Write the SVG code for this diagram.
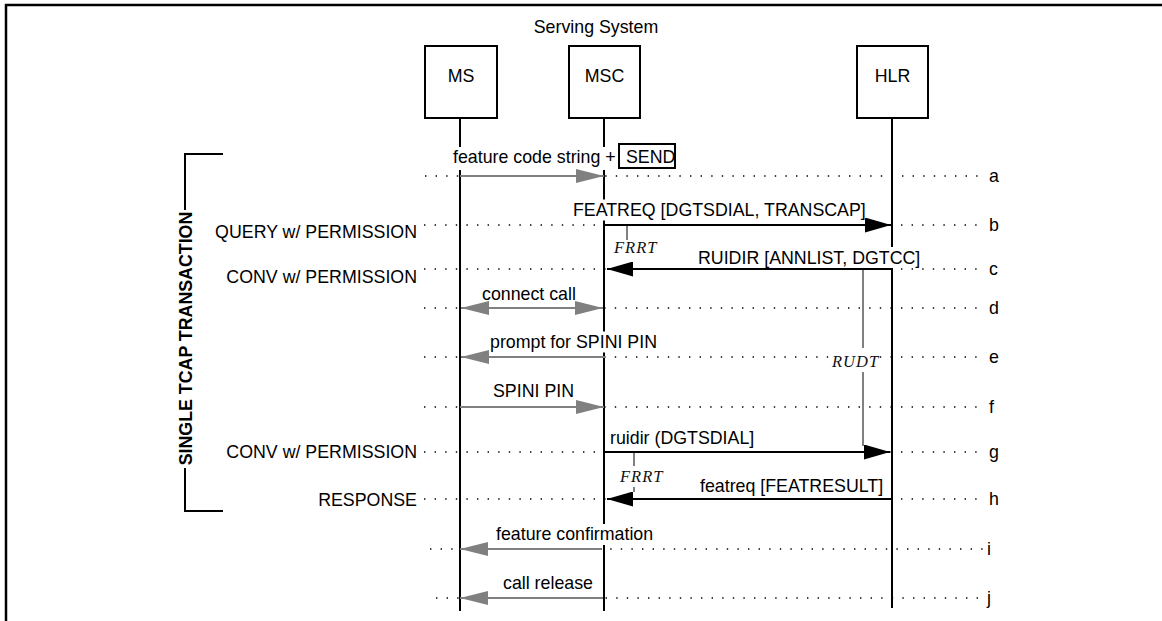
<svg xmlns="http://www.w3.org/2000/svg" width="1162" height="621" viewBox="0 0 1162 621">
<style>
text{font-family:"Liberation Sans",Arial,sans-serif;font-size:17.8px;fill:#000}
.box{fill:#fff;stroke:#000;stroke-width:2}
.life{stroke:#000;stroke-width:2;fill:none}
.dot{stroke:#000;stroke-width:1.4;stroke-dasharray:1.4 9.2;fill:none}
.ga{stroke:#808080;stroke-width:2;fill:none}
.ba{stroke:#000;stroke-width:2;fill:none}
.bg{fill:#fff}
.tm{stroke:#808080;stroke-width:2;fill:none}
.tt{font-family:"Liberation Serif","Times New Roman",serif;font-style:italic;font-size:16.5px;letter-spacing:1px;fill:#111}
.mid{text-anchor:middle}
.end{text-anchor:end}
</style>
<defs>
<marker id="ag" markerUnits="userSpaceOnUse" markerWidth="28" markerHeight="14" refX="28" refY="7" orient="auto-start-reverse"><path d="M0,0 L28,7 L0,14 z" fill="#808080"/></marker>
<marker id="ab" markerUnits="userSpaceOnUse" markerWidth="26" markerHeight="15" refX="26" refY="7.5" orient="auto-start-reverse"><path d="M0,0 L26,7.5 L0,15 z" fill="#000"/></marker>
</defs>
<rect width="1162" height="621" fill="#fff"/>
<g id="frame">
<line x1="5" y1="5" x2="1162" y2="5" stroke="#000" stroke-width="2.5"/>
<line x1="6" y1="4" x2="6" y2="621" stroke="#000" stroke-width="2.5"/>
</g>
<text x="596" y="33" class="mid">Serving System</text>
<g id="guides">
<line class="dot" x1="425" y1="176" x2="978" y2="176"/>
<line class="dot" x1="424" y1="225" x2="978" y2="225"/>
<line class="dot" x1="424" y1="269" x2="978" y2="269"/>
<line class="dot" x1="424" y1="308" x2="978" y2="308"/>
<line class="dot" x1="424" y1="357" x2="978" y2="357"/>
<line class="dot" x1="424" y1="407" x2="978" y2="407"/>
<line class="dot" x1="424" y1="452" x2="978" y2="452"/>
<line class="dot" x1="424" y1="499" x2="978" y2="499"/>
<line class="dot" x1="430" y1="549" x2="985" y2="549"/>
<line class="dot" x1="436" y1="598" x2="985" y2="598"/>
<text x="989" y="182">a</text>
<text x="989" y="231">b</text>
<text x="989" y="275">c</text>
<text x="989" y="314">d</text>
<text x="989" y="363">e</text>
<text x="989" y="413">f</text>
<text x="989" y="458">g</text>
<text x="989" y="505">h</text>
<text x="987" y="555">i</text>
<text x="987" y="604">j</text>
</g>
<g id="MS">
<rect class="box" x="425" y="46" width="72" height="72"/>
<text x="461" y="81.5" class="mid">MS</text>
<line class="life" x1="460" y1="118" x2="460" y2="611"/>
</g>
<g id="MSC">
<rect class="box" x="569" y="46" width="71" height="72"/>
<text x="604.5" y="81.5" class="mid">MSC</text>
<line class="life" x1="604" y1="118" x2="604" y2="611"/>
</g>
<g id="HLR">
<rect class="box" x="857" y="46" width="71" height="72"/>
<text x="892.5" y="82" class="mid">HLR</text>
<line class="life" x1="892" y1="118" x2="892" y2="608"/>
</g>
<g id="bracket">
<path d="M223,154 H185 V210" fill="none" stroke="#000" stroke-width="2"/>
<path d="M185,468 V511 H223" fill="none" stroke="#000" stroke-width="2"/>
<text transform="translate(192,338.5) rotate(-90)" class="mid" font-weight="bold">SINGLE TCAP TRANSACTION</text>
</g>
<g id="phase-labels">
<rect class="bg" x="220" y="220" width="199" height="22"/>
<text x="417" y="238" class="end">QUERY w/ PERMISSION</text>
<rect class="bg" x="220" y="264" width="199" height="22"/>
<text x="417" y="283" class="end">CONV w/ PERMISSION</text>
<rect class="bg" x="220" y="440" width="199" height="22"/>
<text x="417" y="458" class="end">CONV w/ PERMISSION</text>
<rect class="bg" x="310" y="488" width="109" height="22"/>
<text x="417" y="506" class="end">RESPONSE</text>
</g>
<g id="label-masks">
<rect class="bg" x="450" y="147" width="228" height="23"/>
<rect class="bg" x="570" y="199.5" width="302" height="21"/>
<rect class="bg" x="695" y="247" width="230" height="21"/>
<rect class="bg" x="487" y="331.5" width="172" height="21"/>
<rect class="bg" x="493" y="524" width="161" height="21"/>
</g>
<g id="connectors">
<line class="ga" x1="460" y1="176" x2="604" y2="176" marker-end="url(#ag)"/>
<line class="ba" x1="604" y1="225" x2="891" y2="225" marker-end="url(#ab)"/>
<line class="ba" x1="892" y1="269" x2="607" y2="269" marker-end="url(#ab)"/>
<line class="ga" x1="461" y1="308" x2="603" y2="308" marker-start="url(#ag)" marker-end="url(#ag)"/>
<line class="ga" x1="605" y1="357" x2="461" y2="357" marker-end="url(#ag)"/>
<line class="ga" x1="460" y1="407" x2="604" y2="407" marker-end="url(#ag)"/>
<line class="ba" x1="604" y1="452" x2="890" y2="452" marker-end="url(#ab)"/>
<line class="ba" x1="892" y1="499" x2="607" y2="499" marker-end="url(#ab)"/>
<line class="ga" x1="602" y1="549" x2="460" y2="549" marker-end="url(#ag)"/>
<line class="ga" x1="603" y1="598" x2="460" y2="598" marker-end="url(#ag)"/>
</g>
<g id="message-labels">
<text x="453" y="163">feature code string +</text>
<rect x="619" y="144" width="56" height="24" fill="none" stroke="#000" stroke-width="2"/>
<text x="626" y="163">SEND</text>
<text x="573" y="215.5">FEATREQ [DGTSDIAL, TRANSCAP]</text>
<text x="698" y="263.5">RUIDIR [ANNLIST, DGTCC]</text>
<text x="482" y="300">connect call</text>
<text x="490" y="347.5">prompt for SPINI PIN</text>
<text x="493" y="396.5">SPINI PIN</text>
<text x="610" y="443.5">ruidir (DGTSDIAL]</text>
<text x="700" y="491.5">featreq [FEATRESULT]</text>
<text x="496" y="540">feature confirmation</text>
<text x="503" y="589">call release</text>
</g>
<g id="timers">
<line class="tm" x1="627" y1="226" x2="627" y2="240"/>
<rect class="bg" x="612" y="240" width="47" height="17"/>
<text x="614" y="253" class="tt">FRRT</text>
<line class="tm" x1="863" y1="270" x2="863" y2="446"/>
<rect class="bg" x="830" y="348" width="47" height="24"/>
<text x="832" y="367" class="tt">RUDT</text>
<line class="tm" x1="634" y1="453" x2="634" y2="492"/>
<rect class="bg" x="618" y="466" width="47" height="21"/>
<text x="620" y="482" class="tt">FRRT</text>
</g>
</svg>
